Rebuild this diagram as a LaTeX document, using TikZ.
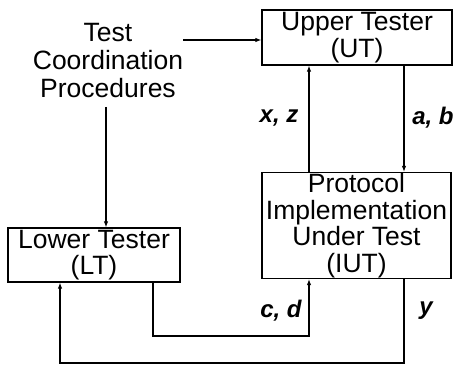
\documentclass[tikz,border=0pt]{standalone}
\usepackage{fontspec}
\setmainfont{Liberation Sans}
\usetikzlibrary{arrows.meta}
\begin{document}
\begin{tikzpicture}[x=1pt,y=-1pt,
  box/.style={draw,line width=1.3pt,inner sep=0pt,align=center,font=\fontsize{26.5}{26.5}\selectfont},
  lbl/.style={font=\fontsize{24}{26}\selectfont\bfseries\itshape,inner sep=0pt},
  conn/.style={line width=1.1pt,-{Latex[length=6pt,width=4.5pt]}},
  plain/.style={line width=1pt}]
\useasboundingbox (0,0) rectangle (461,366);
\node[box,minimum width=190pt,minimum height=55pt] (ut) at (357,37.5) {Upper Tester\\(UT)};
\node[box,minimum width=189pt,minimum height=106pt] (iut) at (356.5,225.5) {Protocol\\Implementation\\Under Test\\(IUT)};
\node[box,minimum width=172pt,minimum height=54pt] (lt) at (94,255) {Lower Tester\\(LT)};
\node[align=center,inner sep=0pt,font=\fontsize{26.5}{28}\selectfont] (tcp) at (108,61) {Test\\Coordination\\Procedures};
\coordinate (tcpr) at (183,40);
\coordinate (tcpb) at (106,107);
\draw[conn] (tcpr) -- (tcpr -| ut.west);
\draw[conn] (tcpb) -- (tcpb |- lt.north);
\draw[conn] (iut.north -| 309,0) -- (ut.south -| 309,0);
\draw[conn] (ut.south -| 404,0) -- (iut.north -| 404,0);
\coordinate (cd) at (153,336);
\draw[conn] (lt.south -| cd) -- (cd) -- (309,336) -- (iut.south -| 309,0);
\coordinate (yy) at (404,363);
\draw[conn] (iut.south -| yy) -- (yy) -- (60,363) -- (lt.south -| 60,0);
\node[lbl] (xz) at (279,118) {x, z};
\node[lbl] (ab) at (433,118) {a, b};
\node[lbl] (cdl) at (281,311) {c, d};
\node[lbl] (yl) at (426,311) {y};
\end{tikzpicture}
\end{document}
